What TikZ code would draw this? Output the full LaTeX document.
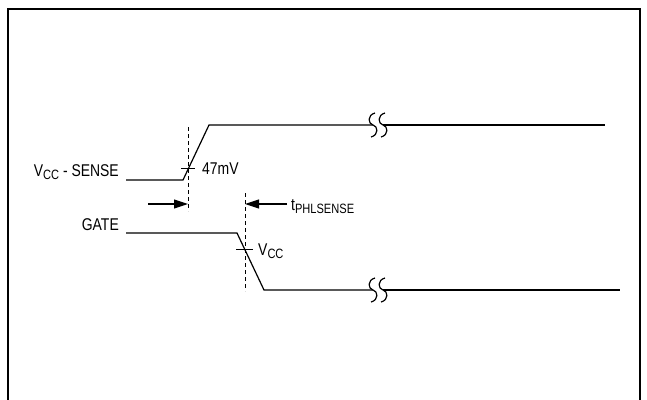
\documentclass[tikz,border=0pt]{standalone}
\usepackage{fontspec}
\setmainfont[FakeStretch=0.82]{Liberation Sans}
\usetikzlibrary{
    arrows.meta,
    positioning
}
\newcommand{\lowtxt}[1]{\raisebox{-3pt}{\fontsize{13.5}{14}\selectfont #1}}

\begin{document}
\begin{tikzpicture}[x=1pt, y=-1pt,
    sig/.style={line width=1.2pt},
    guide/.style={line width=0.7pt, dash pattern=on 4pt off 3pt},
    tick/.style={line width=0.9pt},
    lbl/.style={font=\fontsize{17}{19}\selectfont, inner sep=0pt},
    tim/.style={-{Triangle[length=14pt,width=9pt]}, line width=1.1pt}]
                        \useasboundingbox (0, 0) rectangle (647, 399);
                        \draw[line width=2pt] (8, 402) -- (8, 9) -- (640, 9) -- (640, 402);
                        % signal labels
                        \node[lbl, anchor=base east] (sense) at (119, 176) {V\lowtxt{CC} - SENSE};
                        \node[lbl, anchor=base east] (gate) at (119, 230) {GATE};
                        \node[lbl, anchor=base west] (mv) at (202, 174) {47mV};
                        \node[lbl, anchor=base west] (vcc) at (258, 255) {V\lowtxt{CC}};
                        \node[lbl, anchor=base west] (tphl) at (291, 210) {t\lowtxt{PHLSENSE}};
                        % waveforms
                        \draw[sig] (126, 180) -- (183, 180) -- (209, 125) -- (373, 125);
                        \draw[sig] (383, 125) -- (605, 125);
                        \draw[sig] (126, 233) -- (237, 233) -- (264, 290) -- (373, 290);
                        \draw[sig] (383, 290) -- (620, 290);
                        % breaks
                        \foreach \yy in {125, 290} {
                            \foreach \xx in {373, 383} {
                                \draw[sig] (\xx + 2, \yy - 12) .. controls (\xx - 6, \yy - 10) and (\xx - 5, \yy - 1) .. (\xx, \yy)
                                    .. controls (\xx + 5, \yy + 1) and (\xx + 6, \yy + 10) .. (\xx - 2, \yy + 12);
                            }
                        }
                        % thresholds
                        \draw[tick] (181, 168) -- (195, 168);
                        \draw[tick] (236, 249) -- (253, 249);
                        % guides
                        \coordinate (g1top) at (188, 127);
                        \coordinate (g1bot) at (188, 211);
                        \coordinate (g2top) at (245, 193);
                        \coordinate (g2bot) at (245, 291);
                        \draw[guide] (g1top) -- (g1bot);
                        \draw[guide] (g2top) -- (g2bot);
                        % delay arrows
                        \coordinate (a1) at (148, 204);
                        \coordinate (a1end) at (188, 204);
                        \coordinate (a2) at (287, 204);
                        \coordinate (a2end) at (245, 204);
                        \draw[tim] (a1) -- (a1end);
                        \draw[tim] (a2) -- (a2end);
                    \end{tikzpicture}
\end{document}
